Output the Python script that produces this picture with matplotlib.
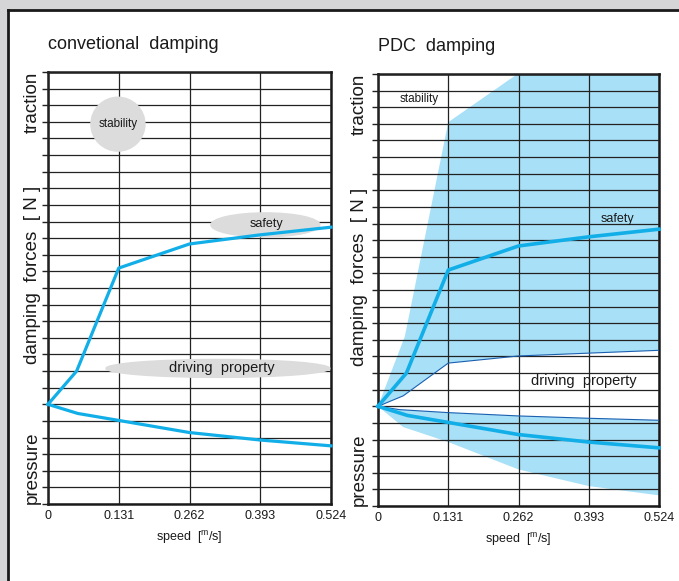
import numpy as np
import matplotlib
matplotlib.use('Agg')
import matplotlib.pyplot as plt
from matplotlib.patches import Ellipse, Rectangle
from matplotlib.lines import Line2D

plt.rcParams['font.family'] = ['Liberation Sans', 'DejaVu Sans']
plt.rcParams['mathtext.default'] = 'regular'

# speed axis
speed_ticks = [0, 0.131, 0.262, 0.393, 0.524]
speed_labels = ['0', '0.131', '0.262', '0.393', '0.524']

# main damping curves (same in both panels)
rebound_x = [0, 0.053, 0.131, 0.262, 0.393, 0.524]
rebound_y = [0, 2.0, 8.2, 9.65, 10.2, 10.66]
compress_x = [0, 0.055, 0.131, 0.262, 0.393, 0.524]
compress_y = [0, -0.55, -0.97, -1.7, -2.15, -2.5]

# PDC adjustment bands
band_up_top_x = [0, 0.05, 0.131, 0.26, 0.524]
band_up_top_y = [0, 4.2, 17.1, 20, 20]
band_up_bot_x = [0, 0.047, 0.131, 0.262, 0.524]
band_up_bot_y = [0, 0.63, 2.6, 3.03, 3.37]
band_lo_top_x = [0, 0.04, 0.131, 0.262, 0.393, 0.524]
band_lo_top_y = [0, -0.2, -0.38, -0.58, -0.72, -0.84]
band_lo_bot_x = [0, 0.047, 0.131, 0.262, 0.393, 0.524]
band_lo_bot_y = [0, -1.25, -2.15, -3.8, -4.8, -5.36]

y_min, y_max = -6, 20

CYAN = '#12aee8'
FILL = '#a8e0f7'
DARK = '#1a5fb0'
BUBBLE = '#dcdcdc'
TXT = '#1a1a1a'

fig = plt.figure(figsize=(6.79, 5.81), dpi=100)
fig.patch.set_facecolor('#d5d5d7')

# white sheet with black border on left and top
W, H = 679, 581
fig.patches.append(Rectangle((9 / W, 0), 1, (H - 11) / H, transform=fig.transFigure,
                             facecolor='white', edgecolor='none', zorder=-10))
fig.lines.append(Line2D([8 / W, 8 / W], [0, (H - 10) / H], transform=fig.transFigure,
                        color='#1a1a1a', lw=2, zorder=-5))
fig.lines.append(Line2D([8 / W, 1], [(H - 10) / H, (H - 10) / H], transform=fig.transFigure,
                        color='#1a1a1a', lw=2, zorder=-5))


def setup(ax, title, ylab_x):
    ax.set_xlim(0, 0.524)
    ax.set_ylim(y_min, y_max)
    ax.set_xticks(speed_ticks)
    ax.set_xticklabels(speed_labels)
    ax.set_yticks(np.arange(y_min, y_max + 1, 1))
    ax.set_yticklabels([])
    ax.tick_params(axis='x', length=0, pad=4, labelsize=9, labelcolor=TXT)
    ax.tick_params(axis='y', length=4, width=1, direction='out', color='#222222')
    ax.set_axisbelow(False)
    ax.grid(True, color='#222222', lw=0.9)
    for s in ax.spines.values():
        s.set_linewidth(1.8)
        s.set_color('#1a1a1a')
    ax.set_facecolor('none')
    ax.text(0, 1.045, title, transform=ax.transAxes, fontsize=13, ha='left', va='bottom', color=TXT)
    ax.text(0.5, -0.077, r'speed  [$^{m}$/s]', transform=ax.transAxes,
            fontsize=9, ha='center', va='center', color=TXT)
    # vertical side labels
    tr = ax.get_yaxis_transform()
    ax.text(ylab_x, 18.2, 'traction', transform=tr, rotation=90,
            fontsize=13.5, ha='center', va='center', color=TXT)
    ax.text(ylab_x, 7.8, 'damping  forces  [ N ]', transform=tr, rotation=90,
            fontsize=13.5, ha='center', va='center', color=TXT)
    ax.text(ylab_x, -3.8, 'pressure', transform=tr, rotation=90,
            fontsize=13.5, ha='center', va='center', color=TXT)


# conventional damping
ax1 = fig.add_axes([48 / W, 77 / H, 283 / W, 432 / H])
setup(ax1, 'convetional  damping', -0.055)
ax1.add_patch(Ellipse((0.1295, 16.86), 0.1, 3.24, color=BUBBLE, zorder=3))
ax1.add_patch(Ellipse((0.4025, 10.8), 0.2017, 1.44, color=BUBBLE, zorder=3))
ax1.add_patch(Ellipse((0.3146, 2.16), 0.4145, 1.08, color=BUBBLE, zorder=3))
ax1.text(0.1295, 16.86, 'stability', fontsize=8.5, ha='center', va='center', color=TXT, zorder=5)
ax1.text(0.405, 10.85, 'safety', fontsize=9, ha='center', va='center', color=TXT, zorder=5)
ax1.text(0.322, 2.2, 'driving  property', fontsize=10.5, ha='center', va='center', color=TXT, zorder=5)
ax1.plot(rebound_x, rebound_y, color=CYAN, lw=2.3, zorder=4, clip_on=False)
ax1.plot(compress_x, compress_y, color=CYAN, lw=2.3, zorder=4, clip_on=False)

# PDC damping
ax2 = fig.add_axes([378 / W, 75 / H, 281 / W, 432 / H])
setup(ax2, 'PDC  damping', -0.066)
ax2.fill(band_up_top_x + band_up_bot_x[::-1], band_up_top_y + band_up_bot_y[::-1],
         color=FILL, lw=0, zorder=1)
ax2.fill(band_lo_top_x + band_lo_bot_x[::-1], band_lo_top_y + band_lo_bot_y[::-1],
         color=FILL, lw=0, zorder=1)
ax2.plot(band_up_bot_x, band_up_bot_y, color=DARK, lw=0.8, zorder=3)
ax2.plot(band_lo_top_x, band_lo_top_y, color=DARK, lw=0.8, zorder=3)
ax2.plot(rebound_x, rebound_y, color=CYAN, lw=2.6, zorder=4, clip_on=False)
ax2.plot(compress_x, compress_y, color=CYAN, lw=2.6, zorder=4, clip_on=False)
ax2.text(0.076, 18.5, 'stability', fontsize=8.5, ha='center', va='center', color=TXT, zorder=5)
ax2.text(0.446, 11.25, 'safety', fontsize=9, ha='center', va='center', color=TXT, zorder=5)
ax2.text(0.383, 1.5, 'driving  property', fontsize=10.5, ha='center', va='center', color=TXT, zorder=5)

fig.savefig('out.png', dpi=100, facecolor=fig.get_facecolor())
